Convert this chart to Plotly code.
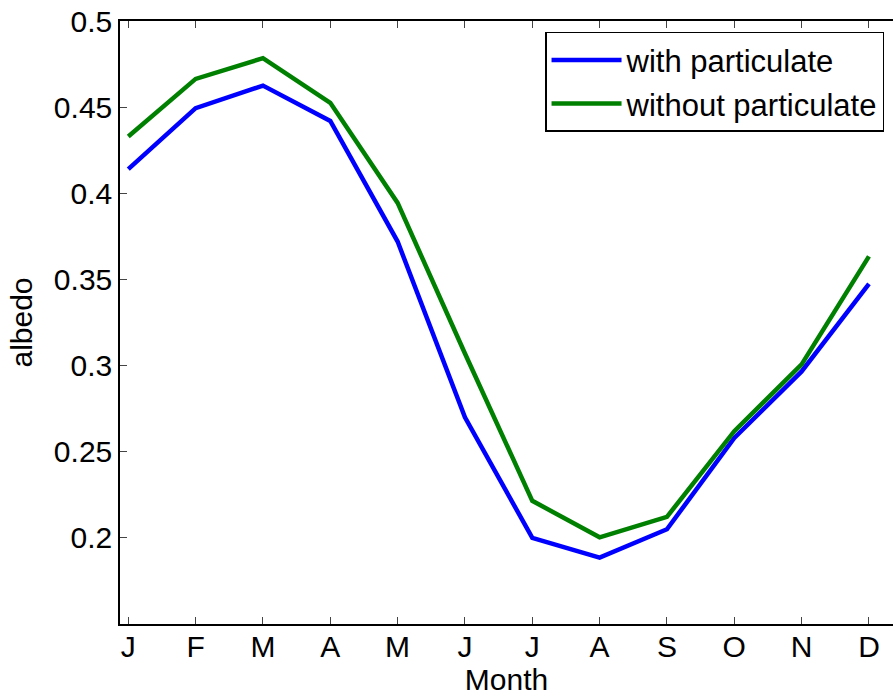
import plotly.graph_objects as go

months = [1, 2, 3, 4, 5, 6, 7, 8, 9, 10, 11, 12]
month_labels = ["J", "F", "M", "A", "M", "J", "J", "A", "S", "O", "N", "D"]
with_particulate = [0.414, 0.4494, 0.4625, 0.442, 0.372, 0.270, 0.200, 0.1885, 0.205, 0.258, 0.2966, 0.3474]
without_particulate = [0.433, 0.4664, 0.4784, 0.4525, 0.3944, 0.307, 0.2215, 0.2003, 0.2122, 0.2619, 0.3007, 0.3634]
y_ticks = [0.2, 0.25, 0.3, 0.35, 0.4, 0.45, 0.5]
y_tick_labels = ["0.2", "0.25", "0.3", "0.35", "0.4", "0.45", "0.5"]

FONT = "Liberation Sans, Arial, Helvetica, sans-serif"

fig = go.Figure()
fig.add_trace(go.Scatter(x=months, y=with_particulate, mode="lines",
                         name="with particulate",
                         line=dict(color="#0000ff", width=4.5)))
fig.add_trace(go.Scatter(x=months, y=without_particulate, mode="lines",
                         name="without particulate",
                         line=dict(color="#008000", width=4.5)))

fig.update_layout(
    width=893, height=696,
    margin=dict(l=120, r=0, t=21, b=72),
    paper_bgcolor="white", plot_bgcolor="white",
    font=dict(family=FONT, size=30, color="black"),
    showlegend=True,
    legend=dict(x=0.9884, y=0.9818, xanchor="right", yanchor="top",
                bordercolor="black", borderwidth=1.5, bgcolor="white",
                font=dict(family=FONT, size=31, color="black"),
                itemwidth=70, tracegroupgap=0),
    xaxis=dict(range=[0.877, 12.357], tickvals=months, ticktext=month_labels,
               showgrid=False, zeroline=False, showline=True, linecolor="black",
               linewidth=1.5, mirror="ticks", ticks="inside", ticklen=7,
               tickcolor="#444", tickwidth=1, ticklabelstandoff=-5,
               tickfont=dict(family=FONT, size=30, color="black"),
               title=dict(text="Month", standoff=12,
                          font=dict(family=FONT, size=30, color="black")),
               automargin=False),
    yaxis=dict(range=[0.15, 0.5], tickvals=y_ticks, ticktext=y_tick_labels,
               showgrid=False, zeroline=False, showline=True, linecolor="black",
               linewidth=1.5, mirror=False, ticks="inside", ticklen=7,
               tickcolor="#444", tickwidth=1,
               tickfont=dict(family=FONT, size=30, color="black"),
               title=dict(text="albedo", standoff=12,
                          font=dict(family=FONT, size=30, color="black")),
               automargin=False),
)

fig.write_html("out.html", config={"displayModeBar": False},
               post_script="document.body.style.margin='0';document.body.style.overflow='hidden';")
